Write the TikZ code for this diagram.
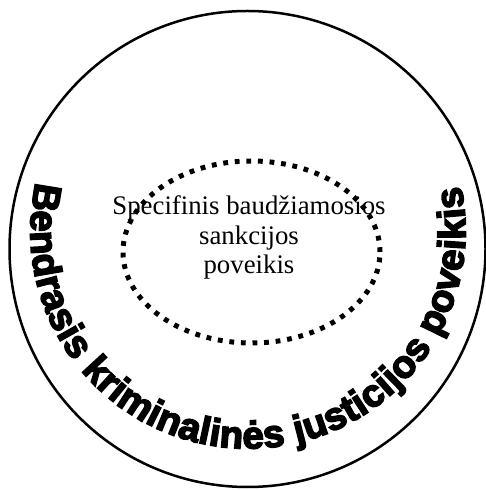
\documentclass[tikz,border=0pt]{standalone}
\usepackage{fontspec}
\setmainfont{Liberation Serif}
\newfontfamily\heavyfont[FakeBold=4]{Liberation Sans Bold}
\usetikzlibrary{positioning, shapes.geometric, decorations.text}

\begin{document}
\begin{tikzpicture}[
  x=1pt, y=1pt,
  align=center,
  % Estilos de figuras
  outercircle/.style={draw, circle, line width=2.5pt, minimum size=476pt, inner sep=0pt},
  dottedellipse/.style={draw, ellipse, line width=5pt, dash pattern=on 4.8pt off 6.8pt, minimum width=257pt, minimum height=182pt, inner sep=0pt},
  innertext/.style={font=\fontsize{26.8}{29.5}\selectfont, inner sep=0pt, anchor=base},
  arctext/.style={decorate, decoration={text along path, text align=fit to path,
    text={|\heavyfont\fontsize{38.5}{42}\selectfont|Bendrasis kriminalinės justicijos poveikis}}}
]
  \useasboundingbox (0,0) rectangle (486,490);

  % ==========================================
  % OUTER CIRCLE AND INNER ELLIPSE
  % ==========================================
  \node[outercircle] (bendras) at (247.5, 241) {};
  \node[dottedellipse] (specifinis) at (251.5, 238) {};

  \node[innertext] (specifinis_txt) at (249, 216) {
    Specifinis baudžiamosios\\
    sankcijos\\
    poveikis
  };

  % ==========================================
  % CURVED TEXT
  % ==========================================
  \coordinate (arc_c) at (248, 259);
  \path[arctext] (arc_c) ++(167:217.5) arc[start angle=167, end angle=372, radius=217.5];

\end{tikzpicture}
\end{document}
